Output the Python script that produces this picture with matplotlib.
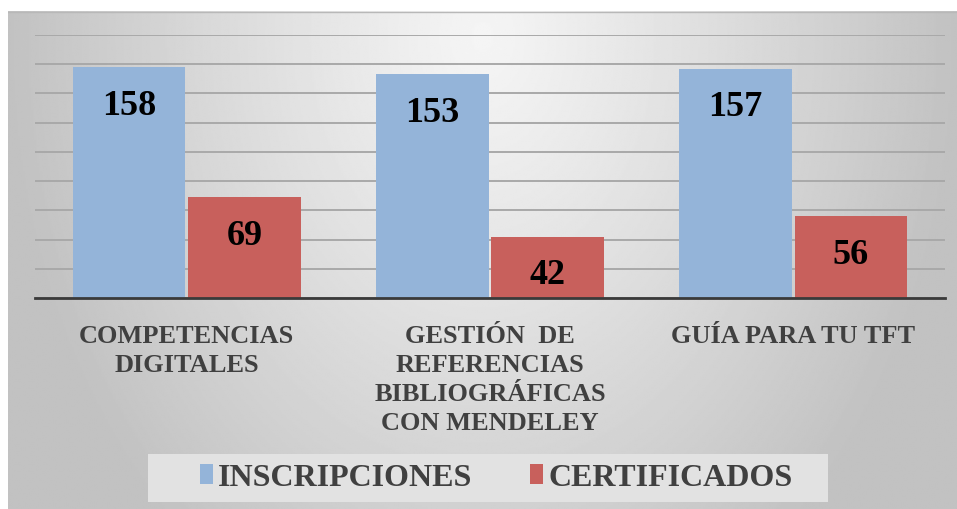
import matplotlib.pyplot as plt
import numpy as np
from matplotlib.patches import Rectangle

categories = ['COMPETENCIAS\nDIGITALES',
              'GESTIÓN  DE\nREFERENCIAS\nBIBLIOGRÁFICAS\nCON MENDELEY',
              'GUÍA PARA TU TFT']
inscripciones = [158, 153, 157]
certificados = [69, 42, 56]

blue = '#94B4D9'
red = '#C8605C'
plt.rcParams['font.family'] = ['Liberation Serif', 'DejaVu Serif']
plt.rcParams['font.weight'] = 'bold'

W, H = 957, 510
fig = plt.figure(figsize=(W / 100, H / 100), dpi=100)
fig.patch.set_facecolor('white')

# grey radial-ish backdrop, lighter near the top middle
bg = fig.add_axes([8 / W, 0, (W - 8) / W, (H - 12) / H], zorder=-2)
yy, xx = np.mgrid[0:1:300j, 0:1:600j]
r = np.sqrt(((xx - 0.5) / 0.5) ** 2 + ((yy - 0.05) / 1.3) ** 2)
shade = np.clip(0.96 - 0.2 * r ** 1.1, 0.76, 0.96)
bg.imshow(shade, cmap='gray', vmin=0, vmax=1, aspect='auto',
          extent=[0, 1, 1, 0], interpolation='bilinear')
bg.axhline(0.002, color='#b8b8b8', lw=1)
bg.set_xlim(0, 1)
bg.set_ylim(1, 0)
bg.axis('off')

ax = fig.add_axes([35 / W, (H - 299) / H, 910 / W, 263 / H])
ax.patch.set_alpha(0)

x = np.arange(len(categories))
w = 0.372
b1 = ax.bar(x - w / 2 - 0.004, inscripciones, width=w, color=blue, label='INSCRIPCIONES', zorder=2)
b2 = ax.bar(x + w / 2 + 0.004, certificados, width=w, color=red, label='CERTIFICADOS', zorder=2)

for bars, vals in ((b1, inscripciones), (b2, certificados)):
    for rect, v in zip(bars, vals):
        ax.annotate(str(v), (rect.get_x() + rect.get_width() / 2, v),
                    xytext=(0, -38), textcoords='offset pixels',
                    ha='center', va='center', fontsize=26, fontweight='bold',
                    color='black', zorder=3)

ax.set_xlim(-0.5, 2.5)
ax.set_ylim(0, 180)
ax.set_yticks(np.arange(0, 181, 20))
ax.yaxis.grid(True, color='#a9a9a9', lw=1.4, zorder=0)
ax.set_axisbelow(True)
ax.tick_params(axis='y', length=0, labelleft=False)
ax.tick_params(axis='x', length=0, pad=19)
ax.set_xticks(x)
ax.set_xticklabels(categories, fontsize=19, fontweight='bold',
                   color='#404040', linespacing=1.32, va='top')
for s in ('top', 'right', 'left'):
    ax.spines[s].set_visible(False)
ax.spines['bottom'].set_color('#3a3a3a')
ax.spines['bottom'].set_linewidth(2)

# legend strip at the bottom
fig.patches.append(Rectangle((148 / W, (H - 503) / H), 680 / W, 48 / H,
                             transform=fig.transFigure, facecolor='#e2e2e2',
                             edgecolor='none', zorder=-1))
fig.legend(handles=[b1, b2], loc='center', bbox_to_anchor=(496 / W, 1 - 479 / H),
           ncol=2, frameon=False, handlelength=0.42, handleheight=0.6,
           handletextpad=0.15, columnspacing=1.8,
           prop={'weight': 'bold', 'size': 23},
           labelcolor='#404040')

fig.savefig('out.png', dpi=100)
